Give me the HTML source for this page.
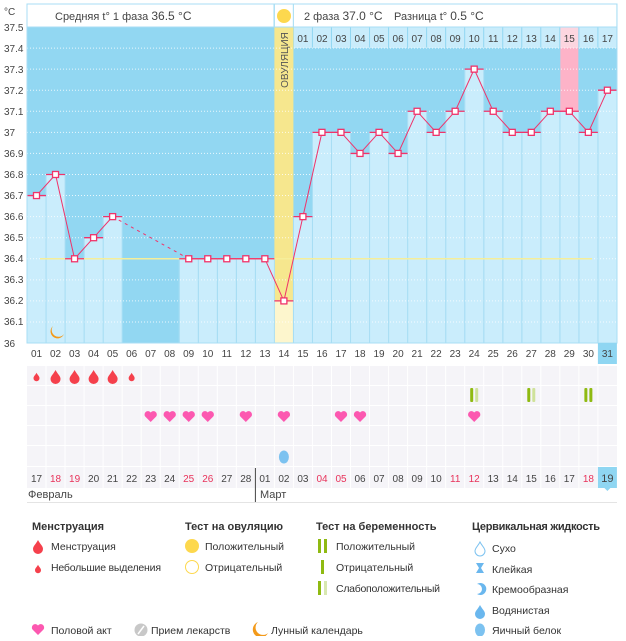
<!DOCTYPE html>
<html><head><meta charset="utf-8"><style>
body{margin:0;background:#fff;width:626px;height:636px;overflow:hidden;font-family:"Liberation Sans","DejaVu Sans",sans-serif}
svg text{font-family:"Liberation Sans","DejaVu Sans",sans-serif}
</style></head><body>
<svg id="s" width="626" height="636" viewBox="0 0 626 636" xmlns="http://www.w3.org/2000/svg">
<rect x="27" y="4" width="590" height="339" fill="#92d7f2"/>
<g id="bars"></g>
<rect x="27" y="4" width="247" height="23" fill="#fff" stroke="#a8def4"/>
<rect x="274.4" y="4" width="19" height="23" fill="#fff" stroke="#a8def4"/>
<circle cx="284" cy="16" r="7" fill="#fdd84e"/>
<rect x="293.4" y="4" width="323.5" height="23" fill="#fff" stroke="#a8def4"/>
<text x="55" y="20" font-size="11" fill="#444">Средняя t° 1 фаза <tspan font-size="12">36.5 °C</tspan></text>
<text x="304" y="20" font-size="11" fill="#444">2 фаза <tspan font-size="12">37.0 °C</tspan></text>
<text x="394" y="20" font-size="11" fill="#444">Разница t° <tspan font-size="12">0.5 °C</tspan></text>
<text x="288" y="60" font-size="10" fill="#555" transform="rotate(-90 288 60)" text-anchor="middle">ОВУЛЯЦИЯ</text>
<g font-size="10" fill="#444" text-anchor="middle">
<text x="302.9" y="42">01</text><text x="322" y="42">02</text><text x="341" y="42">03</text><text x="360" y="42">04</text><text x="379" y="42">05</text><text x="398.1" y="42">06</text><text x="417.1" y="42">07</text><text x="436.1" y="42">08</text><text x="455.2" y="42">09</text><text x="474.2" y="42">10</text><text x="493.2" y="42">11</text><text x="512.3" y="42">12</text><text x="531.3" y="42">13</text><text x="550.3" y="42">14</text><text x="569.3" y="42">15</text><text x="588.4" y="42">16</text><text x="607.4" y="42">17</text>
</g>
<g font-size="10" fill="#444">
<text x="4" y="15">°C</text>
<text x="4" y="31">37.5</text><text x="4" y="52">37.4</text><text x="4" y="73">37.3</text><text x="4" y="94">37.2</text><text x="4" y="115">37.1</text><text x="4" y="136">37</text><text x="4" y="157">36.9</text><text x="4" y="178">36.8</text><text x="4" y="199">36.7</text><text x="4" y="220">36.6</text><text x="4" y="241">36.5</text><text x="4" y="262">36.4</text><text x="4" y="283">36.3</text><text x="4" y="304">36.2</text><text x="4" y="325">36.1</text><text x="4" y="347">36</text>
</g>
<g id="lower"></g>
<g font-size="10" fill="#444" text-anchor="middle" id="dn">
<text x="36.5" y="357">01</text><text x="55.5" y="357">02</text><text x="74.6" y="357">03</text><text x="93.6" y="357">04</text><text x="112.6" y="357">05</text><text x="131.7" y="357">06</text><text x="150.7" y="357">07</text><text x="169.7" y="357">08</text><text x="188.7" y="357">09</text><text x="207.8" y="357">10</text><text x="226.8" y="357">11</text><text x="245.8" y="357">12</text><text x="264.9" y="357">13</text><text x="283.9" y="357">14</text><text x="302.9" y="357">15</text><text x="322" y="357">16</text><text x="341" y="357">17</text><text x="360" y="357">18</text><text x="379" y="357">19</text><text x="398.1" y="357">20</text><text x="417.1" y="357">21</text><text x="436.1" y="357">22</text><text x="455.2" y="357">23</text><text x="474.2" y="357">24</text><text x="493.2" y="357">25</text><text x="512.3" y="357">26</text><text x="531.3" y="357">27</text><text x="550.3" y="357">28</text><text x="569.3" y="357">29</text><text x="588.4" y="357">30</text><text x="607.4" y="357">31</text>
</g>
<g font-size="10" fill="#444" text-anchor="middle">
<text x="36.5" y="482">17</text><text x="55.5" y="482" fill="#e8325a">18</text><text x="74.6" y="482" fill="#e8325a">19</text><text x="93.6" y="482">20</text><text x="112.6" y="482">21</text><text x="131.7" y="482">22</text><text x="150.7" y="482">23</text><text x="169.7" y="482">24</text><text x="188.7" y="482" fill="#e8325a">25</text><text x="207.8" y="482" fill="#e8325a">26</text><text x="226.8" y="482">27</text><text x="245.8" y="482">28</text><text x="264.9" y="482">01</text><text x="283.9" y="482">02</text><text x="302.9" y="482">03</text><text x="322" y="482" fill="#e8325a">04</text><text x="341" y="482" fill="#e8325a">05</text><text x="360" y="482">06</text><text x="379" y="482">07</text><text x="398.1" y="482">08</text><text x="417.1" y="482">09</text><text x="436.1" y="482">10</text><text x="455.2" y="482" fill="#e8325a">11</text><text x="474.2" y="482" fill="#e8325a">12</text><text x="493.2" y="482">13</text><text x="512.3" y="482">14</text><text x="531.3" y="482">15</text><text x="550.3" y="482">16</text><text x="569.3" y="482">17</text><text x="588.4" y="482" fill="#e8325a">18</text><text x="607.4" y="482" font-size="11">19</text>
</g>
<text x="28" y="498" font-size="11" fill="#444">Февраль</text>
<text x="260" y="498" font-size="11" fill="#444">Март</text>
<line x1="255.4" y1="468" x2="255.4" y2="502" stroke="#444"/>
<line x1="27" y1="502.5" x2="617" y2="502.5" stroke="#e4e4e4"/>
<g font-size="10.5" fill="#333">
<text x="32" y="530" font-weight="bold" font-size="11">Менструация</text>
<text x="185" y="530" font-weight="bold" font-size="11">Тест на овуляцию</text>
<text x="316" y="530" font-weight="bold" font-size="11">Тест на беременность</text>
<text x="472" y="530" font-weight="bold" font-size="11" textLength="128">Цервикальная жидкость</text>
<text x="51" y="550">Менструация</text><text x="51" y="571" textLength="110">Небольшие выделения</text>
<text x="205" y="550">Положительный</text><text x="205" y="571">Отрицательный</text>
<text x="336" y="550">Положительный</text><text x="336" y="571">Отрицательный</text><text x="336" y="592" textLength="104">Слабоположительный</text>
<text x="492" y="552">Сухо</text><text x="492" y="573">Клейкая</text><text x="492" y="593">Кремообразная</text><text x="492" y="614">Водянистая</text><text x="492" y="634">Яичный белок</text>
<text x="51" y="634">Половой акт</text><text x="151" y="634">Прием лекарств</text><text x="271" y="634">Лунный календарь</text>
</g>
</svg>
<script>
var S="http://www.w3.org/2000/svg";
function el(p,t,a){var e=document.createElementNS(S,t);for(var k in a)e.setAttribute(k,a[k]);p.appendChild(e);return e;}
var svg=document.getElementById('s'),B=document.getElementById('bars'),Lw=document.getElementById('lower');
function L(i){return 27+i*19.03;}function C(i){return L(i)+9.5;}
function Y(t){return 27+(37.5-t)*210.7;}
var T=[36.7,36.8,36.4,36.5,36.6,null,null,null,36.4,36.4,36.4,36.4,36.4,36.2,36.6,37.0,37.0,36.9,37.0,36.9,37.1,37.0,37.1,37.3,37.1,37.0,37.0,37.1,37.1,37.0,37.2];
for(var i=14;i<31;i++){el(B,'rect',{x:L(i)+0.5,y:27,width:18,height:21,fill:i==28?'#fcd6e0':'#c9ecfb'});}
el(B,'rect',{x:L(28)+0.5,y:48,width:18,height:Y(37.1)-48,fill:'#fdb3c8'});
for(var i=0;i<31;i++){if(T[i]==null||i==13)continue;el(B,'rect',{x:L(i)+0.5,y:Y(T[i]),width:18.5,height:343-Y(T[i]),fill:'#caedfc'});}
el(B,'rect',{x:L(13),y:27,width:19,height:Y(36.2)-27,fill:'#f6e78e'});
el(B,'rect',{x:L(13),y:Y(36.2),width:19,height:343-Y(36.2),fill:'#fdf6cd'});
for(var k=1;k<15;k++){var y=Y(37.5-k*0.1);el(B,'line',{x1:27,y1:y,x2:617,y2:y,stroke:'#fff','stroke-dasharray':'1 2','stroke-opacity':0.8});}
function topY(i){if(T[i]==null||i==13)return 343;return Y(T[i]);}
for(var i=1;i<31;i++){var tt=Math.min(topY(i-1),topY(i));if(tt<343)el(B,'line',{x1:L(i),y1:tt,x2:L(i),y2:343,stroke:'#a9def4'});}
el(B,'line',{x1:40,y1:Y(36.4),x2:592,y2:Y(36.4),stroke:'#f6ee9a','stroke-width':1.5});
var pts=[];for(var i=0;i<31;i++){if(T[i]!=null)pts.push([C(i),Y(T[i]),i]);}
for(var j=1;j<pts.length;j++){var a=pts[j-1],b=pts[j];var o={x1:a[0],y1:a[1],x2:b[0],y2:b[1],stroke:'#f0336a','stroke-width':1};if(b[2]-a[2]>1)o['stroke-dasharray']='3 4';el(B,'line',o);}
for(var j=0;j<pts.length;j++){var p=pts[j];el(B,'line',{x1:p[0]-9.5,y1:p[1],x2:p[0]+9.5,y2:p[1],stroke:'#f0336a','stroke-width':1.3});el(B,'rect',{x:p[0]-3,y:p[1]-3,width:6,height:6,fill:'#fff',stroke:'#f0336a','stroke-width':1.3});}
el(B,'path',{d:'M53 326 a7 7 0 1 0 11 8 a6 6 0 0 1 -11 -8z',fill:'#f39a1a'});
var fr=el(svg,'rect',{x:27,y:4,width:590,height:339,fill:'none',stroke:'#a8def4'});svg.insertBefore(fr,Lw);
el(Lw,'rect',{x:L(30),y:343,width:19,height:21,fill:'#8fd6f2'});
[[366,19],[386,19],[406,19],[426,19],[446,20],[467,21]].forEach(function(r){el(Lw,'rect',{x:27,y:r[0],width:590,height:r[1],fill:'#f5f4f8'});});
for(var i=1;i<31;i++){el(Lw,'line',{x1:L(i),y1:366,x2:L(i),y2:488,stroke:'#fff'});}
el(Lw,'rect',{x:L(30),y:467,width:19,height:21,fill:'#8fd6f2'});
el(Lw,'path',{d:'M'+(C(30)-3)+' 488 l3 3 l3 -3z',fill:'#8fd6f2'});
function drop(g,x,y,s,c){el(g,'path',{d:'M'+x+' '+(y-7*s)+' C'+(x+2*s)+' '+(y-3*s)+' '+(x+5*s)+' '+(y-1*s)+' '+(x+5*s)+' '+(y+2*s)+' A'+(5*s)+' '+(5*s)+' 0 0 1 '+(x-5*s)+' '+(y+2*s)+' C'+(x-5*s)+' '+(y-1*s)+' '+(x-2*s)+' '+(y-3*s)+' '+x+' '+(y-7*s)+'z',fill:c});}
var ds=[0.6,1,1,1,1,0.6];ds.forEach(function(s,i){drop(Lw,C(i),377,s,'#f5404c');});
function heart(g,x,y,c){el(g,'path',{d:'M'+x+' '+(y+6)+' L'+(x-5.5)+' '+(y+0.5)+' A3 3 0 0 1 '+x+' '+(y-3.5)+' A3 3 0 0 1 '+(x+5.5)+' '+(y+0.5)+'z',fill:c});}
[6,7,8,9,11,13,16,17,23].forEach(function(i){heart(Lw,C(i),416,'#fc58b0');});
function test(g,x,y,c2){el(g,'rect',{x:x-4,y:y-7,width:3,height:14,rx:1,fill:'#8fba12'});el(g,'rect',{x:x+1,y:y-7,width:3,height:14,rx:1,fill:c2});}
test(Lw,C(23),395,'#cfe29a');test(Lw,C(26),395,'#cfe29a');test(Lw,C(29),395,'#8fba12');
el(Lw,'ellipse',{cx:C(13),cy:457,rx:5,ry:6.5,fill:'#7cc2f0'});
var G=svg;
drop(G,38,547,1,'#f5404c');drop(G,38,569,0.6,'#f5404c');
el(G,'circle',{cx:192,cy:546,r:7,fill:'#fdd84e'});el(G,'circle',{cx:192,cy:567,r:6.5,fill:'#fff',stroke:'#fdd84e'});
el(G,'rect',{x:318,y:539,width:3,height:14,fill:'#8fba12'});el(G,'rect',{x:324,y:539,width:3,height:14,fill:'#8fba12'});
el(G,'rect',{x:321,y:560,width:3,height:14,fill:'#8fba12'});
el(G,'rect',{x:318,y:581,width:3,height:14,fill:'#8fba12'});el(G,'rect',{x:324,y:581,width:3,height:14,fill:'#d8e8b0'});
el(G,'path',{d:'M480 542 C482 546 485 548 485 551 A5 5 0 0 1 475 551 C475 548 478 546 480 542z',fill:'#fff',stroke:'#7cc2f0'});
el(G,'path',{d:'M476 563 h8 l-3 5 l3 5 h-8 l3 -5z',fill:'#6ab7ee'});
el(G,'path',{d:'M477 584 a6 6 0 1 1 0 10 a4 4 0 0 0 0 -10z',fill:'#6ab7ee'});
drop(G,480,612,1,'#6ab7ee');
el(G,'ellipse',{cx:480,cy:630,rx:5,ry:6.5,fill:'#7cc2f0'});
heart(G,38,629,'#fc58b0');
el(G,'circle',{cx:141,cy:630,r:6.5,fill:'#c8c8c8'});el(G,'line',{x1:138,y1:634,x2:144,y2:626,stroke:'#fff','stroke-width':1.5});
el(G,'path',{d:'M258 622 a8 8 0 1 0 10 11 a7 7 0 0 1 -10 -11z',fill:'#f39a1a'});
</script>
</body></html>
